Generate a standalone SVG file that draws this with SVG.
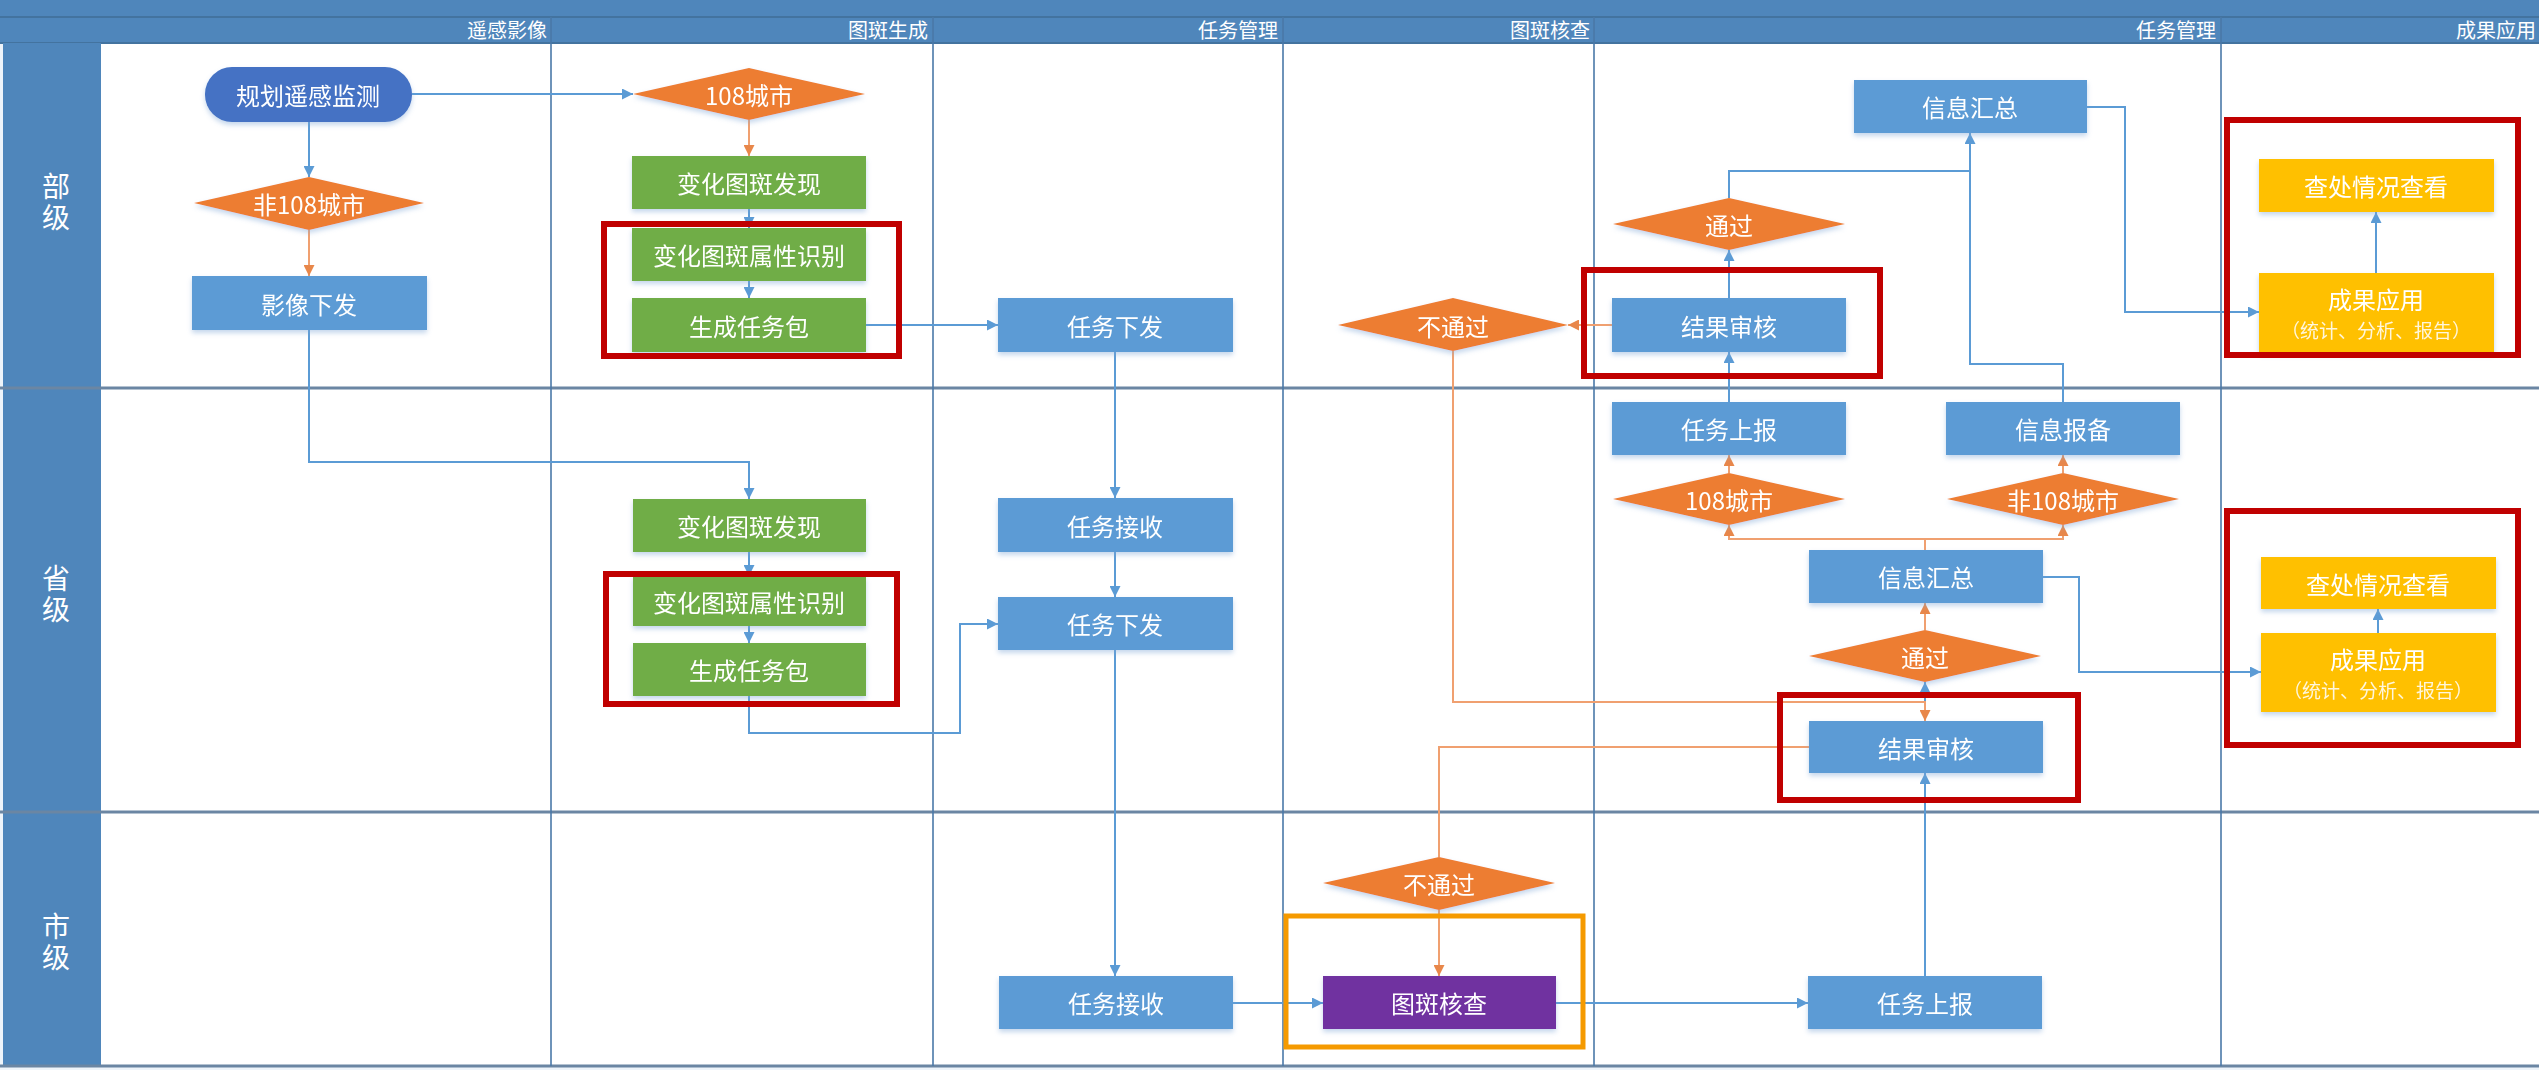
<svg xmlns="http://www.w3.org/2000/svg" width="2539" height="1070" viewBox="0 0 2539 1070">
<defs>
<style>
.lane{fill:#4f86bb}
.hdr{font-family:"Noto Sans CJK SC","Noto Sans",sans-serif;font-size:20px;fill:#ffffff;text-anchor:end}
.rowlbl{font-family:"Noto Sans CJK SC","Noto Sans",sans-serif;font-size:28px;fill:#ffffff;text-anchor:middle;writing-mode:vertical-rl;letter-spacing:3px}
.div{stroke:#4a78a8;stroke-width:1.6;fill:none}
.rowline{stroke:#6b86a3;stroke-width:3;fill:none}
.blue{fill:#5b9bd5}
.green{fill:#70ad47}
.orange{fill:#ed7d31}
.yellow{fill:#ffc000}
.purple{fill:#7030a0}
.start{fill:#4472c4}
.t{font-family:"Noto Sans CJK SC","Noto Sans",sans-serif;font-size:24px;fill:#ffffff;text-anchor:middle;dominant-baseline:central}
.ts{font-family:"Noto Sans CJK SC","Noto Sans",sans-serif;font-size:19px;fill:#fff6dc;text-anchor:middle;dominant-baseline:central}
.cb{stroke:#5b9bd5;stroke-width:2;fill:none;marker-end:url(#ab)}
.cbn{stroke:#5b9bd5;stroke-width:2;fill:none}
.co{stroke:#f0a070;stroke-width:2;fill:none;marker-end:url(#ao)}
.con{stroke:#f0a070;stroke-width:2;fill:none}
.red{fill:none;stroke:#c00000;stroke-width:6}
.org{fill:none;stroke:#f59a00;stroke-width:5}
</style>
<marker id="ab" viewBox="0 0 10 10" refX="10" refY="5" markerWidth="11" markerHeight="11" markerUnits="userSpaceOnUse" orient="auto">
<path d="M0,0 L10,5 L0,10 z" fill="#5b9bd5"/>
</marker>
<marker id="ao" viewBox="0 0 10 10" refX="10" refY="5" markerWidth="11" markerHeight="11" markerUnits="userSpaceOnUse" orient="auto">
<path d="M0,0 L10,5 L0,10 z" fill="#e8874a"/>
</marker>
<filter id="sh" x="-10%" y="-20%" width="120%" height="150%">
<feDropShadow dx="0" dy="3" stdDeviation="2.5" flood-color="#7fa6d6" flood-opacity="0.45"/>
</filter>
</defs>

<!-- background and swimlane frame -->
<g id="frame">
<rect x="0" y="0" width="2539" height="1070" fill="#eef4fa"/>
<rect x="0" y="0" width="2539" height="43" class="lane"/>
<line x1="0" y1="17" x2="2539" y2="17" stroke="#43739f" stroke-width="2"/>
<line x1="0" y1="43" x2="2539" y2="43" stroke="#43739f" stroke-width="2"/>
<rect x="101" y="44" width="2438" height="1022" fill="#ffffff"/>
<rect x="3" y="43" width="98" height="1023" class="lane"/>
<line x1="0" y1="388" x2="2539" y2="388" class="rowline"/>
<line x1="0" y1="812" x2="2539" y2="812" class="rowline"/>
<line x1="0" y1="1066" x2="2539" y2="1066" class="rowline"/>
<line x1="551" y1="17" x2="551" y2="1066" class="div"/>
<line x1="933" y1="17" x2="933" y2="1066" class="div"/>
<line x1="1283" y1="17" x2="1283" y2="1066" class="div"/>
<line x1="1594" y1="17" x2="1594" y2="1066" class="div"/>
<line x1="2221" y1="17" x2="2221" y2="1066" class="div"/>
<text class="hdr" x="547" y="38">遥感影像</text>
<text class="hdr" x="928" y="38">图斑生成</text>
<text class="hdr" x="1278" y="38">任务管理</text>
<text class="hdr" x="1590" y="38">图斑核查</text>
<text class="hdr" x="2216" y="38">任务管理</text>
<text class="hdr" x="2536" y="38">成果应用</text>
<text class="rowlbl" x="56" y="203">部级</text>
<text class="rowlbl" x="56" y="595">省级</text>
<text class="rowlbl" x="56" y="943">市级</text>
</g>

<!-- connectors -->
<g id="connectors">
<path class="cb" d="M412,94 H633"/>
<path class="cb" d="M309,122 V177"/>
<path class="co" d="M309,230 V276"/>
<path class="cb" d="M309,330 V462 H749 V499"/>
<path class="co" d="M749,120 V156"/>
<path class="cb" d="M749,209 V228"/>
<path class="cb" d="M749,281 V298"/>
<path class="cb" d="M866,325 H998"/>
<path class="cb" d="M1115,352 V498"/>
<path class="cb" d="M1115,552 V597"/>
<path class="cb" d="M1115,650 V976"/>
<path class="cb" d="M749,552 V576"/>
<path class="cb" d="M749,626 V643"/>
<path class="cb" d="M749,696 V733 H960 V624 H998"/>
<path class="cb" d="M1233,1003 H1323"/>
<path class="cb" d="M1556,1003 H1808"/>
<path class="cb" d="M1925,976 V773"/>
<path class="cb" d="M1925,721 V682"/>
<path class="co" d="M1925,630 V603"/>
<path class="con" d="M1925,550 V539"/>
<path class="co" d="M1925,539 H1729 V525"/>
<path class="co" d="M1925,539 H2063 V525"/>
<path class="co" d="M1729,473 V455"/>
<path class="co" d="M2063,473 V455"/>
<path class="cb" d="M1729,402 V352"/>
<path class="cb" d="M1729,298 V250"/>
<path class="co" d="M1612,325 H1568"/>
<path class="co" d="M1453,351 V702 H1925 V721"/>
<path class="con" d="M1809,747 H1439 V857"/>
<path class="co" d="M1439,910 V976"/>
<path class="cbn" d="M1729,198 V171 H1970"/>
<path class="cb" d="M2063,402 V364 H1970 V133"/>
<path class="cb" d="M2087,107 H2125 V312 H2259"/>
<path class="cb" d="M2376,273 V212"/>
<path class="cb" d="M2043,577 H2079 V672 H2261"/>
<path class="cb" d="M2378,633 V609"/>
</g>

<!-- nodes -->
<g id="n-plan" filter="url(#sh)"><rect class="start" x="205" y="67" width="207" height="55" rx="27"/><text class="t" x="308" y="94">规划遥感监测</text></g>
<g id="n-non108-b" filter="url(#sh)"><polygon class="orange" points="194,203 309,177 424,203 309,230"/><text class="t" x="309" y="203">非108城市</text></g>
<g id="n-imgsend" filter="url(#sh)"><rect class="blue" x="192" y="276" width="235" height="54"/><text class="t" x="309" y="303">影像下发</text></g>
<g id="n-108-b" filter="url(#sh)"><polygon class="orange" points="633,94 749,68 865,94 749,120"/><text class="t" x="749" y="94">108城市</text></g>
<g id="n-find-b" filter="url(#sh)"><rect class="green" x="632" y="156" width="234" height="53"/><text class="t" x="749" y="182">变化图斑发现</text></g>
<g id="n-attr-b" filter="url(#sh)"><rect class="green" x="632" y="228" width="234" height="53"/><text class="t" x="749" y="254">变化图斑属性识别</text></g>
<g id="n-pack-b" filter="url(#sh)"><rect class="green" x="632" y="298" width="234" height="54"/><text class="t" x="749" y="325">生成任务包</text></g>
<g id="n-issue-b" filter="url(#sh)"><rect class="blue" x="998" y="298" width="235" height="54"/><text class="t" x="1115" y="325">任务下发</text></g>
<g id="n-fail-b" filter="url(#sh)"><polygon class="orange" points="1338,325 1453,298 1568,325 1453,351"/><text class="t" x="1453" y="325">不通过</text></g>
<g id="n-review-b" filter="url(#sh)"><rect class="blue" x="1612" y="298" width="234" height="54"/><text class="t" x="1729" y="325">结果审核</text></g>
<g id="n-pass-b" filter="url(#sh)"><polygon class="orange" points="1613,224 1729,198 1845,224 1729,250"/><text class="t" x="1729" y="224">通过</text></g>
<g id="n-sum-b" filter="url(#sh)"><rect class="blue" x="1854" y="80" width="233" height="53"/><text class="t" x="1970" y="106">信息汇总</text></g>
<g id="n-view-b" filter="url(#sh)"><rect class="yellow" x="2259" y="159" width="235" height="53"/><text class="t" x="2376" y="185">查处情况查看</text></g>
<g id="n-app-b" filter="url(#sh)"><rect class="yellow" x="2259" y="273" width="235" height="79"/><text class="t" x="2376" y="298">成果应用</text><text class="ts" x="2376" y="329">（统计、分析、报告）</text></g>

<g id="n-find-p" filter="url(#sh)"><rect class="green" x="633" y="499" width="233" height="53"/><text class="t" x="749" y="525">变化图斑发现</text></g>
<g id="n-attr-p" filter="url(#sh)"><rect class="green" x="633" y="576" width="233" height="50"/><text class="t" x="749" y="601">变化图斑属性识别</text></g>
<g id="n-pack-p" filter="url(#sh)"><rect class="green" x="633" y="643" width="233" height="53"/><text class="t" x="749" y="669">生成任务包</text></g>
<g id="n-recv-p" filter="url(#sh)"><rect class="blue" x="998" y="498" width="235" height="54"/><text class="t" x="1115" y="525">任务接收</text></g>
<g id="n-issue-p" filter="url(#sh)"><rect class="blue" x="998" y="597" width="235" height="53"/><text class="t" x="1115" y="623">任务下发</text></g>
<g id="n-report-p" filter="url(#sh)"><rect class="blue" x="1612" y="402" width="234" height="53"/><text class="t" x="1729" y="428">任务上报</text></g>
<g id="n-108-p" filter="url(#sh)"><polygon class="orange" points="1613,499 1729,473 1845,499 1729,525"/><text class="t" x="1729" y="499">108城市</text></g>
<g id="n-filing-p" filter="url(#sh)"><rect class="blue" x="1946" y="402" width="234" height="53"/><text class="t" x="2063" y="428">信息报备</text></g>
<g id="n-non108-p" filter="url(#sh)"><polygon class="orange" points="1947,499 2063,473 2179,499 2063,525"/><text class="t" x="2063" y="499">非108城市</text></g>
<g id="n-sum-p" filter="url(#sh)"><rect class="blue" x="1809" y="550" width="234" height="53"/><text class="t" x="1926" y="576">信息汇总</text></g>
<g id="n-pass-p" filter="url(#sh)"><polygon class="orange" points="1809,656 1925,630 2041,656 1925,682"/><text class="t" x="1925" y="656">通过</text></g>
<g id="n-review-p" filter="url(#sh)"><rect class="blue" x="1809" y="721" width="234" height="52"/><text class="t" x="1926" y="747">结果审核</text></g>
<g id="n-view-p" filter="url(#sh)"><rect class="yellow" x="2261" y="557" width="235" height="52"/><text class="t" x="2378" y="583">查处情况查看</text></g>
<g id="n-app-p" filter="url(#sh)"><rect class="yellow" x="2261" y="633" width="235" height="79"/><text class="t" x="2378" y="658">成果应用</text><text class="ts" x="2378" y="689">（统计、分析、报告）</text></g>

<g id="n-recv-c" filter="url(#sh)"><rect class="blue" x="999" y="976" width="234" height="53"/><text class="t" x="1116" y="1002">任务接收</text></g>
<g id="n-fail-c" filter="url(#sh)"><polygon class="orange" points="1323,883 1439,857 1555,883 1439,910"/><text class="t" x="1439" y="883">不通过</text></g>
<g id="n-verify-c" filter="url(#sh)"><rect class="purple" x="1323" y="976" width="233" height="53"/><text class="t" x="1439" y="1002">图斑核查</text></g>
<g id="n-report-c" filter="url(#sh)"><rect class="blue" x="1808" y="976" width="234" height="53"/><text class="t" x="1925" y="1002">任务上报</text></g>

<!-- highlight frames -->
<g id="highlights">
<rect class="red" x="604" y="224" width="295" height="132"/>
<rect class="red" x="606" y="574" width="291" height="130"/>
<rect class="red" x="1584" y="270" width="296" height="106"/>
<rect class="red" x="1780" y="695" width="298" height="105"/>
<rect class="red" x="2227" y="120" width="291" height="235"/>
<rect class="red" x="2227" y="511" width="291" height="234"/>
<rect class="org" x="1286" y="916" width="297" height="131"/>
</g>
</svg>
